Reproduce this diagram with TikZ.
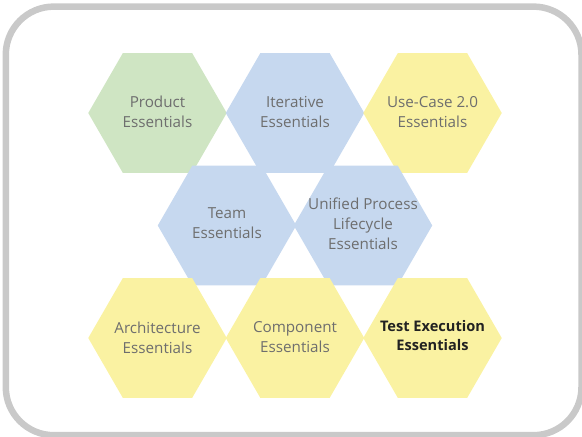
\documentclass[tikz,border=0pt]{standalone}
\usepackage{fontspec}
\setmainfont{Open Sans}
\usetikzlibrary{shapes.geometric}
\definecolor{bandgray}{HTML}{C9C9C9}
\definecolor{hexgreen}{HTML}{CFE5C3}
\definecolor{hexblue}{HTML}{C6D8EF}
\definecolor{hexyellow}{HTML}{FAF2A2}
\definecolor{labelgray}{HTML}{6E6E6E}
\definecolor{labeldark}{HTML}{222222}
\tikzset{
  hexbase/.style={regular polygon,regular polygon sides=6,minimum size=138.5pt,inner sep=0pt,draw=none,outer sep=0pt},
  hextext/.style={align=center,font=\fontsize{15.2}{20}\selectfont,text=labelgray,inner sep=0pt},
  hextextbold/.style={align=center,font=\fontsize{14.6}{19}\selectfont\bfseries,text=labeldark,inner sep=0pt},
  green hex/.style={hexbase,fill=hexgreen},
  blue hex/.style={hexbase,fill=hexblue},
  yellow hex/.style={hexbase,fill=hexyellow},
}
\begin{document}
\begin{tikzpicture}[x=1pt,y=-1pt]
\useasboundingbox (0,0) rectangle (582,437);
\draw[bandgray,line width=6.5pt,rounded corners=48pt] (5.8,6.6) rectangle (581.5,435.2);
\node[green hex]  (product) at (157.5,113) {};
\node[blue hex]   (iterative) at (295,113) {};
\node[yellow hex] (usecase) at (432.5,113) {};
\node[blue hex]   (team) at (227,225.5) {};
\node[blue hex]   (unified) at (363,225.5) {};
\node[yellow hex] (architecture) at (157.5,338) {};
\node[yellow hex] (component) at (295,338) {};
\node[yellow hex] (test) at (432.5,338) {};
\node[hextext] (tproduct) at (157.5,112) {Product\\Essentials};
\node[hextext] (titerative) at (295,111.5) {Iterative\\Essentials};
\node[hextext] (tusecase) at (432.5,112) {Use-Case 2.0\\Essentials};
\node[hextext] (tteam) at (227,223.5) {Team\\Essentials};
\node[hextext] (tunified) at (363,224) {Unified Process\\Lifecycle\\Essentials};
\node[hextext] (tarchitecture) at (157.5,338) {Architecture\\Essentials};
\node[hextext] (tcomponent) at (295,337.5) {Component\\Essentials};
\node[hextextbold] (ttest) at (432.5,335.5) {Test Execution\\Essentials};
\end{tikzpicture}
\end{document}
